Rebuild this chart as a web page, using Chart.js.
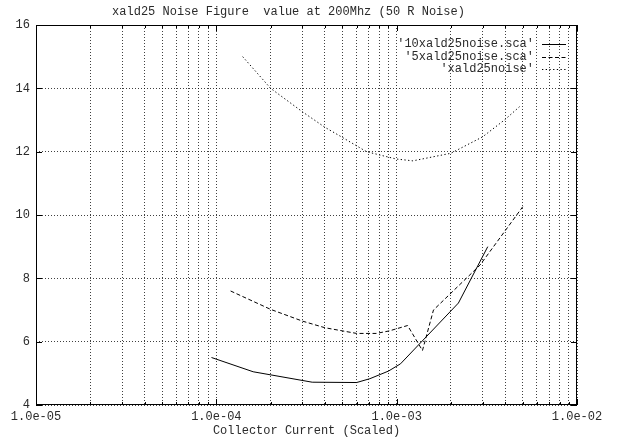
<!DOCTYPE html>
<html>
<head>
<meta charset="utf-8">
<script src="https://cdn.jsdelivr.net/npm/chart.js@4.4.1/dist/chart.umd.min.js"></script>
<style>
  html, body { margin: 0; padding: 0; background: #fff; }
  canvas { display: block; }
</style>
</head>
<body>
<canvas id="noiseChart" width="621" height="441"></canvas>
<script>
// Noise figure vs collector current, three simulation runs
const tenxCurrent = [9.4e-5, 1.6e-4, 3.4e-4, 6.0e-4, 7.1e-4, 9.0e-4, 1.05e-3, 2.2e-3, 3.2e-3];
const tenxNoise   = [5.5, 5.05, 4.72, 4.71, 4.83, 5.07, 5.30, 7.22, 9.0];

const fivexCurrent = [1.2e-4, 2.0e-4, 3.0e-4, 4.0e-4, 6.0e-4, 7.7e-4, 9.1e-4, 1.15e-3, 1.39e-3, 1.6e-3, 2.9e-3, 5.0e-3];
const fivexNoise   = [7.6, 7.02, 6.65, 6.44, 6.26, 6.26, 6.34, 6.51, 5.72, 7.0, 8.42, 10.26];

const baseCurrent = [1.4e-4, 2.0e-4, 3.0e-4, 4.0e-4, 5.0e-4, 6.8e-4, 9.9e-4, 1.23e-3, 2.0e-3, 3.0e-3, 4.0e-3, 4.8e-3];
const baseNoise   = [15.0, 14.0, 13.26, 12.77, 12.45, 12.0, 11.77, 11.71, 11.95, 12.47, 13.02, 13.42];

const seriesLabels = ["'10xald25noise.sca'", "'5xald25noise.sca'", "'xald25noise'"];
const yTicks = [4, 6, 8, 10, 12, 14, 16];
const decades = [-5, -4, -3, -2];

const FONT = { family: "'Liberation Mono', 'DejaVu Sans Mono', monospace", size: 12, weight: 'normal' };
const INK = '#2a2a2a';

function toPoints(xs, ys) {
    return xs.map((x, i) => ({ x: x, y: ys[i] }));
}

// log ticks: every 1..9 x 10^n so the dotted grid shows the minor decades too
function logTicks() {
    const ticks = [];
    decades.forEach(e => {
        if (e === decades[decades.length - 1]) {
            ticks.push({ value: Math.pow(10, e) });
            return;
        }
        for (let m = 1; m <= 9; m++) ticks.push({ value: m * Math.pow(10, e) });
    });
    return ticks;
}

function expLabel(v) {
    const e = Math.round(Math.log10(v));
    if (Math.abs(v / Math.pow(10, e) - 1) > 1e-6) return '';
    const sign = e < 0 ? '-' : '+';
    return '1.0e' + sign + String(Math.abs(e)).padStart(2, '0');
}

// border all round plus gnuplot style inward tick marks
const framePlugin = {
    id: 'frame',
    afterDatasetsDraw(chart) {
        const { ctx, chartArea: a, scales } = chart;
        ctx.save();
        ctx.strokeStyle = '#000';
        ctx.lineWidth = 1;
        ctx.setLineDash([]);
        ctx.strokeRect(a.left + 0.5, a.top + 0.5, a.right - a.left - 1, a.bottom - a.top - 1);
        ctx.beginPath();
        scales.x.ticks.forEach(t => {
            const px = Math.round(scales.x.getPixelForValue(t.value)) + 0.5;
            const len = expLabel(t.value) ? 6 : 3;
            ctx.moveTo(px, a.bottom);
            ctx.lineTo(px, a.bottom - len);
            ctx.moveTo(px, a.top);
            ctx.lineTo(px, a.top + len);
        });
        scales.y.ticks.forEach(t => {
            const py = Math.round(scales.y.getPixelForValue(t.value)) + 0.5;
            ctx.moveTo(a.left, py);
            ctx.lineTo(a.left + 6, py);
            ctx.moveTo(a.right, py);
            ctx.lineTo(a.right - 6, py);
        });
        ctx.stroke();
        ctx.restore();
    }
};

// key in the top right corner, text right aligned with the line sample after it
const keyPlugin = {
    id: 'key',
    afterDatasetsDraw(chart) {
        const { ctx } = chart;
        const rows = [44, 56.5, 69];
        ctx.save();
        ctx.font = FONT.size + 'px ' + FONT.family;
        ctx.fillStyle = INK;
        ctx.textAlign = 'right';
        ctx.textBaseline = 'middle';
        chart.data.datasets.forEach((ds, i) => {
            const y = rows[i];
            ctx.fillText(ds.label, 534, y);
            ctx.beginPath();
            ctx.strokeStyle = ds.borderColor;
            ctx.lineWidth = 1;
            ctx.setLineDash(ds.borderDash || []);
            ctx.moveTo(542, Math.round(y) + 0.5);
            ctx.lineTo(566, Math.round(y) + 0.5);
            ctx.stroke();
        });
        ctx.restore();
    }
};

const ctx = document.getElementById('noiseChart').getContext('2d');
new Chart(ctx, {
    type: 'scatter',
    data: {
        datasets: [
            {
                label: seriesLabels[0],
                data: toPoints(tenxCurrent, tenxNoise),
                borderColor: '#000',
                borderWidth: 1,
                borderDash: [],
            },
            {
                label: seriesLabels[1],
                data: toPoints(fivexCurrent, fivexNoise),
                borderColor: '#000',
                borderWidth: 1,
                borderDash: [4, 2.5],
            },
            {
                label: seriesLabels[2],
                data: toPoints(baseCurrent, baseNoise),
                borderColor: '#000',
                borderWidth: 1,
                borderDash: [1.3, 2.4],
            }
        ]
    },
    options: {
        responsive: false,
        animation: false,
        devicePixelRatio: 1,
        showLine: true,
        elements: {
            point: { radius: 0, hoverRadius: 0 },
            line: { tension: 0 }
        },
        layout: { padding: { left: 0, right: 44, top: 0, bottom: 0 } },
        plugins: {
            legend: { display: false },
            tooltip: { enabled: false },
            title: {
                display: true,
                text: 'xald25 Noise Figure  value at 200Mhz (50 R Noise)',
                font: FONT,
                color: INK,
                padding: { top: 5, bottom: 5.6 }
            }
        },
        scales: {
            x: {
                type: 'logarithmic',
                min: 1e-5,
                max: 1e-2,
                afterBuildTicks: scale => { scale.ticks = logTicks(); },
                afterFit: scale => {
                    scale.height = 36;
                    scale.paddingLeft = 0;
                    scale.paddingRight = 0;
                },
                ticks: {
                    autoSkip: false,
                    maxRotation: 0,
                    minRotation: 0,
                    padding: 5,
                    font: FONT,
                    color: INK,
                    callback: v => expLabel(v)
                },
                grid: {
                    color: 'rgba(0,0,0,0.75)',
                    lineWidth: 1,
                    drawTicks: false
                },
                border: { display: false, dash: [1, 2] },
                title: {
                    display: true,
                    text: 'Collector Current (Scaled)',
                    font: FONT,
                    color: INK,
                    padding: { top: 0, bottom: 3 }
                }
            },
            y: {
                min: 4,
                max: 16,
                afterBuildTicks: scale => { scale.ticks = yTicks.map(v => ({ value: v })); },
                afterFit: scale => {
                    scale.width = 36;
                    scale.paddingTop = 0;
                    scale.paddingBottom = 0;
                },
                ticks: {
                    padding: 6,
                    font: FONT,
                    color: INK
                },
                grid: {
                    color: 'rgba(0,0,0,0.75)',
                    lineWidth: 1,
                    drawTicks: false
                },
                border: { display: false, dash: [1, 2] }
            }
        }
    },
    plugins: [framePlugin, keyPlugin]
});
</script>
</body>
</html>
